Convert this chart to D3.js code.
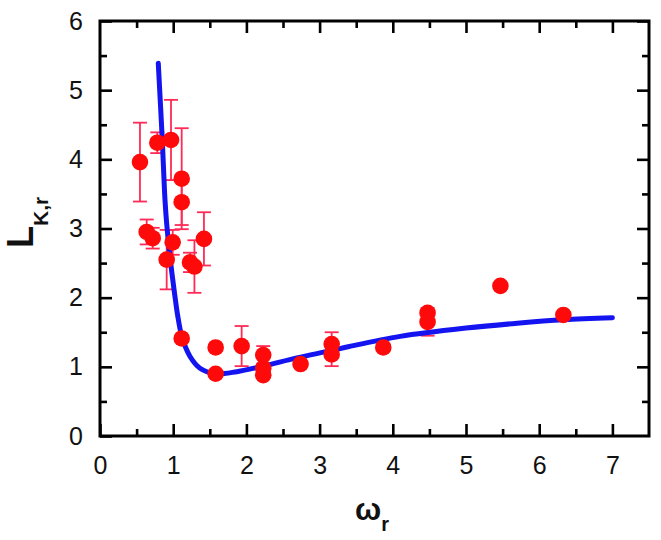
<!DOCTYPE html>
<html><head><meta charset="utf-8">
<script src="https://cdn.jsdelivr.net/npm/d3@7"></script>
<style>body{margin:0;background:#fff}svg{display:block}text{font-family:"Liberation Sans",Arial,sans-serif}</style>
</head><body><svg id="c" width="661" height="540"></svg>
<script>
// measured points
const pointX = [0.546,0.783,0.97,1.116,1.116,0.638,0.72,0.993,0.911,1.42,1.23,1.29,1.116,1.58,1.58,1.935,2.23,2.23,2.23,2.74,3.165,3.165,3.87,4.475,4.475,5.47,6.33];
const pointL = [3.96,4.24,4.28,3.72,3.38,2.95,2.86,2.80,2.55,2.85,2.51,2.45,1.41,1.28,0.90,1.30,1.17,0.98,0.88,1.04,1.33,1.18,1.28,1.78,1.65,2.17,1.75];
const pointErr = [0.57,0.15,0.58,0.73,0.33,0.18,0.15,0.18,0.43,0.385,0.14,0.38,0,0,0,0.29,0.13,0,0,0,0.17,0.17,0,0,0.2,0,0];
// model curve
const curveX = [0.796,0.85,0.888,0.911,0.956,1.0,1.03,1.06,1.12,1.23,1.366,1.57,1.87,2.23,2.69,3.14,3.39,4.1,5.0,5.7,6.33,7.0];
const curveL = [5.39,4.3,3.41,3.07,2.59,2.21,1.97,1.75,1.43,1.15,0.98,0.90,0.93,1.01,1.13,1.23,1.29,1.44,1.56,1.63,1.68,1.71];
const xTicks = [0,1,2,3,4,5,6,7];
const yTicks = [0,1,2,3,4,5,6];
const xMinor = [0.5,1.5,2.5,3.5,4.5,5.5,6.5];
const yMinor = [0.5,1.5,2.5,3.5,4.5,5.5];

const L = 100, R = 649, T = 21, B = 436;
const x = d3.scaleLinear().domain([0,7.5]).range([L,R]);
const y = d3.scaleLinear().domain([0,6]).range([B,T]);
const svg = d3.select("#c");

function axis(gen, tr, vals, len, pad){
  const g = svg.append("g").attr("transform", tr)
    .call(gen.tickValues(vals).tickSizeInner(-len).tickSizeOuter(0).tickPadding(pad||0)
      .tickFormat(pad? d3.format("d") : ""));
  g.select(".domain").remove();
  g.selectAll(".tick line").attr("stroke","#000").attr("stroke-width",2.6);
  g.selectAll("text").attr("fill","#111").style("font-size","25px");
  return g;
}
axis(d3.axisBottom(x), `translate(0,${B})`, xTicks, 12, 20);
axis(d3.axisBottom(x), `translate(0,${B})`, xMinor, 7);
axis(d3.axisTop(x), `translate(0,${T})`, xTicks.filter(v=>v>0), 12);
axis(d3.axisTop(x), `translate(0,${T})`, xMinor, 7);
axis(d3.axisLeft(y), `translate(${L},0)`, yTicks, 12, 17);
axis(d3.axisLeft(y), `translate(${L},0)`, yMinor, 7);
axis(d3.axisRight(y), `translate(${R},0)`, yTicks.filter(v=>v>0), 12);
axis(d3.axisRight(y), `translate(${R},0)`, yMinor, 7);
svg.append("rect").attr("x",L).attr("y",T).attr("width",R-L).attr("height",B-T)
  .attr("fill","none").attr("stroke","#000").attr("stroke-width",3);

// error bars
const eb = svg.append("g").attr("stroke","#ff2a55").attr("stroke-width",1.8);
pointX.forEach((px,i)=>{
  const e = pointErr[i]; if(!e) return;
  const cx = x(px), y1 = y(pointL[i]+e), y2 = y(pointL[i]-e);
  eb.append("line").attr("x1",cx).attr("x2",cx).attr("y1",y1).attr("y2",y2);
  eb.append("line").attr("x1",cx-7).attr("x2",cx+7).attr("y1",y1).attr("y2",y1);
  eb.append("line").attr("x1",cx-7).attr("x2",cx+7).attr("y1",y2).attr("y2",y2);
});

// curve
const line = d3.line().x(d=>x(d[0])).y(d=>y(d[1])).curve(d3.curveCatmullRom.alpha(0.5));
svg.append("path").datum(curveX.map((v,i)=>[v,curveL[i]])).attr("d",line)
  .attr("fill","none").attr("stroke","#1414f0").attr("stroke-width",5).attr("stroke-linecap","round");

// points
svg.append("g").selectAll("circle").data(pointX).join("circle")
  .attr("cx",d=>x(d)).attr("cy",(d,i)=>y(pointL[i])).attr("r",8.3).attr("fill","#ff0a0a");

// titles
const xt = svg.append("text").attr("x",372).attr("y",520).attr("text-anchor","middle")
  .style("font-weight","bold").style("font-size","31px").attr("fill","#111");
xt.append("tspan").text("ω");
xt.append("tspan").attr("dy",11).style("font-size","20px").text("r");

const yt = svg.append("text").attr("transform","translate(33,248) rotate(-90)")
  .style("font-weight","bold").style("font-size","36px").attr("fill","#111");
yt.append("tspan").text("L");
yt.append("tspan").attr("dy",15).style("font-size","21px").text("K,r");
</script></body></html>
